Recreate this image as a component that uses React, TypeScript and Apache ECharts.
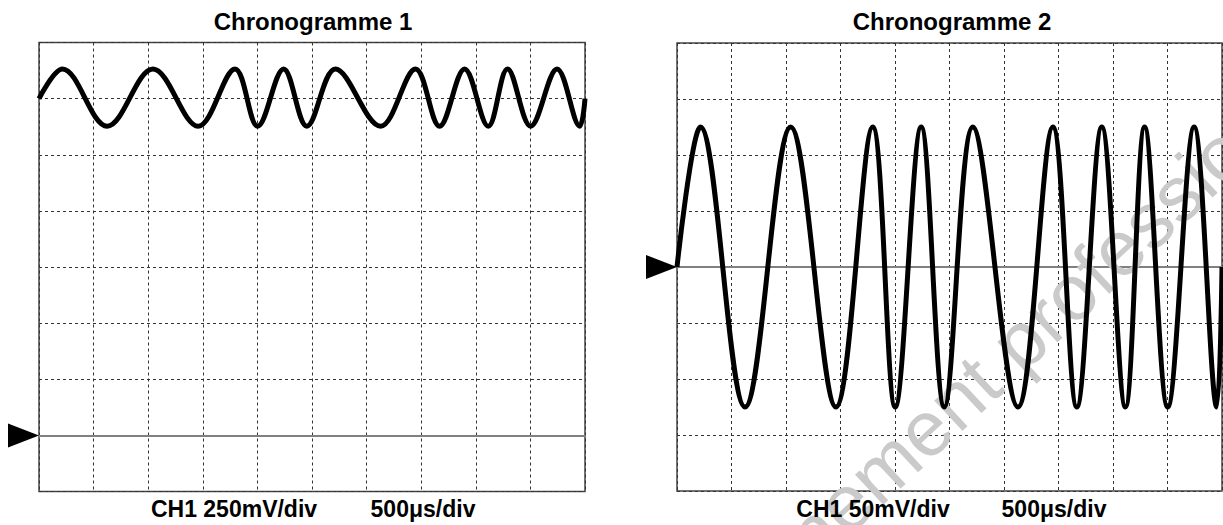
import React, { useEffect, useRef } from "react";
import * as echarts from "echarts";

// Shared time base (ms): start, successive extrema, end
const timeMs = [
  0, 0.215, 0.624, 1.043, 1.458, 1.795, 2.002, 2.24, 2.453, 2.714,
  3.128, 3.448, 3.668, 3.897, 4.114, 4.29, 4.502, 4.744, 4.952, 5.0,
];

// Chronogramme 1 : CH1 in volts (DC coupled, 250 mV/div)
const ch1Volts = [
  1.5, 1.632, 1.377, 1.632, 1.377, 1.632, 1.377, 1.632, 1.377, 1.632,
  1.377, 1.632, 1.377, 1.632, 1.377, 1.632, 1.377, 1.632, 1.377, 1.5,
];

// Chronogramme 2 : CH1 in mV (AC coupled, 50 mV/div)
const ch2MilliVolts = [
  0, 125, -125, 125, -125, 125, -125, 125, -125, 125,
  -125, 125, -125, 125, -125, 125, -125, 125, -125, 0,
];

const titles = ["Chronogramme 1", "Chronogramme 2"];
const ch1Labels = ["CH1 250mV/div", "500μs/div"];
const ch2Labels = ["CH1 50mV/div", "500μs/div"];
const watermark = "enseignement professionnel";

const FONT = '"Liberation Sans", Arial, sans-serif';

const xAxisBase = (gridIndex: number) => ({
  gridIndex,
  type: "value",
  min: 0,
  max: 5,
  interval: 0.5,
  axisLine: { show: true, onZero: true, lineStyle: { color: "#808080", width: 2 } },
  axisTick: { show: false },
  axisLabel: { show: false },
  splitLine: { show: true, lineStyle: { type: [3, 3], color: "#333", width: 1 } },
});

const yAxisBase = (gridIndex: number, min: number, max: number, interval: number) => ({
  gridIndex,
  type: "value",
  min,
  max,
  interval,
  axisLine: { show: false },
  axisTick: { show: false },
  axisLabel: { show: false },
  splitLine: { show: true, lineStyle: { type: [3, 3], color: "#333", width: 1 } },
});

const triggerMark = {
  symbol: "triangle",
  symbolSize: [24, 31],
  symbolRotate: -90,
  symbolOffset: [-15.5, 0],
  itemStyle: { color: "#000" },
  label: { show: false },
  silent: true,
};

const lineSeries = (idx: number, values: number[]) => ({
  type: "line",
  xAxisIndex: idx,
  yAxisIndex: idx,
  data: timeMs.map((t, i) => [t, values[i]]),
  showSymbol: false,
  smooth: 0.36,
  lineStyle: { color: "#000", width: 5 },
  z: 3,
  markPoint: { ...triggerMark, data: [{ coord: [0, 0] }] },
});

const textEl = (text: string, x: number, y: number, size: number) => ({
  type: "text",
  x,
  y,
  z: 10,
  style: {
    text,
    fill: "#000",
    font: `bold ${size}px ${FONT}`,
    textAlign: "center",
    textVerticalAlign: "middle",
    align: "center",
    verticalAlign: "middle",
  },
});

export default function App() {
  const ref = useRef<HTMLDivElement>(null);
  useEffect(() => {
    if (!ref.current) return;
    const chart = echarts.init(ref.current, null, { renderer: "svg" });
    chart.setOption({
      animation: false,
      backgroundColor: "#fff",
      grid: [
        { left: 39, top: 42.5, width: 546, height: 449, show: true, borderColor: "#444", borderWidth: 1.5, backgroundColor: "transparent" },
        { left: 677, top: 43, width: 545, height: 448, show: true, borderColor: "#444", borderWidth: 1.5, backgroundColor: "transparent" },
      ],
      xAxis: [xAxisBase(0), xAxisBase(1)],
      yAxis: [yAxisBase(0, -0.25, 1.75, 0.25), yAxisBase(1, -200, 200, 50)],
      series: [lineSeries(0, ch1Volts), lineSeries(1, ch2MilliVolts)],
      graphic: [
        {
          type: "text",
          x: 986,
          y: 372,
          rotation: (43 * Math.PI) / 180,
          z: 1,
          style: {
            text: watermark,
            fill: "#cacaca",
            font: `78px ${FONT}`,
            textAlign: "center",
            textVerticalAlign: "middle",
            align: "center",
            verticalAlign: "middle",
          },
        },
        textEl(titles[0], 313, 21, 24),
        textEl(titles[1], 952, 21, 24),
        textEl(ch1Labels[0], 234, 509, 23),
        textEl(ch1Labels[1], 423, 509, 23),
        textEl(ch2Labels[0], 873, 509, 23),
        textEl(ch2Labels[1], 1054, 509, 23),
      ],
    });
    return () => chart.dispose();
  }, []);
  return (
    <div
      ref={ref}
      style={{ position: "fixed", left: 0, top: 0, width: 1223, height: 525 }}
    />
  );
}
